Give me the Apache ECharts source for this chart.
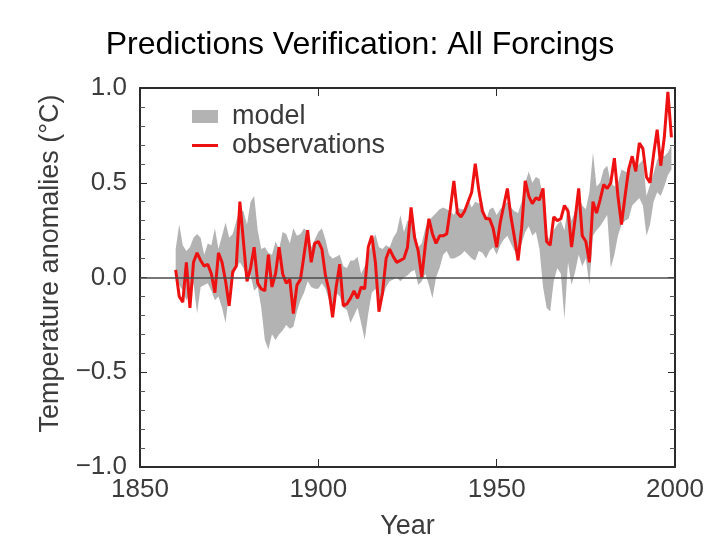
<!DOCTYPE html>
<html>
<head>
<meta charset="utf-8">
<title>Predictions Verification: All Forcings</title>
<script src="https://cdn.jsdelivr.net/npm/echarts@6/dist/echarts.min.js"></script>
<style>
    html, body { margin: 0; padding: 0; background: #fff; }
    #forcings_chart { width: 720px; height: 540px; }
</style>
</head>
<body>
<div id="forcings_chart"></div>
<script>

// Chart data
// ------------------------------

var firstYear = 1860;

// Observed anomalies, one value per year from 1860
var observations = [
    0.04, -0.10, -0.13, 0.08, -0.16, 0.08, 0.13, 0.09, 0.06, 0.07,
    0.02, -0.08, 0.13, 0.08, -0.02, -0.15, 0.03, 0.06, 0.40, 0.19,
    -0.02, 0.05, 0.16, -0.03, -0.06, -0.07, 0.12, -0.05, 0.02, 0.16,
    0.02, -0.03, -0.01, -0.19, -0.04, -0.01, 0.12, 0.25, 0.08, 0.18,
    0.19, 0.15, 0.01, -0.07, -0.21, -0.05, 0.07, -0.15, -0.14, -0.11,
    -0.07, -0.11, -0.05, -0.06, 0.16, 0.22, 0.08, -0.18, -0.08, 0.10,
    0.15, 0.11, 0.08, 0.09, 0.10, 0.16, 0.37, 0.21, 0.14, 0.00,
    0.17, 0.31, 0.23, 0.18, 0.22, 0.22, 0.23, 0.36, 0.51, 0.34,
    0.32, 0.35, 0.40, 0.45, 0.60, 0.46, 0.35, 0.31, 0.31, 0.26,
    0.16, 0.29, 0.38, 0.47, 0.32, 0.21, 0.09, 0.26, 0.51, 0.43,
    0.39, 0.42, 0.41, 0.47, 0.19, 0.17, 0.32, 0.30, 0.31, 0.38,
    0.35, 0.16, 0.31, 0.47, 0.22, 0.19, 0.08, 0.40, 0.34, 0.41,
    0.49, 0.47, 0.50, 0.63, 0.43, 0.28, 0.43, 0.57, 0.64, 0.56,
    0.71, 0.68, 0.53, 0.50, 0.65, 0.78, 0.59, 0.74, 0.98, 0.74
];

// Model ensemble range (top and bottom of the grey band)
var modelHigh = [
    0.15, 0.28, 0.17, 0.14, 0.16, 0.21, 0.23, 0.21, 0.12, 0.18,
    0.17, 0.26, 0.15, 0.22, 0.29, 0.21, 0.23, 0.30, 0.36, 0.35,
    0.28, 0.40, 0.43, 0.25, 0.15, 0.16, 0.13, 0.12, 0.19, 0.15,
    0.24, 0.23, 0.18, 0.26, 0.22, 0.23, 0.26, 0.24, 0.16, 0.20,
    0.24, 0.26, 0.20, 0.12, 0.10, 0.11, 0.12, 0.06, 0.05, 0.09,
    0.09, 0.11, 0.02, 0.06, 0.12, 0.18, 0.23, 0.16, 0.15, 0.17,
    0.16, 0.21, 0.24, 0.33, 0.24, 0.30, 0.30, 0.24, 0.16, 0.18,
    0.26, 0.30, 0.32, 0.34, 0.36, 0.37, 0.36, 0.35, 0.33, 0.37,
    0.36, 0.36, 0.41, 0.37, 0.40, 0.39, 0.40, 0.30, 0.36, 0.37,
    0.33, 0.36, 0.38, 0.40, 0.37, 0.35, 0.34, 0.40, 0.50, 0.56,
    0.50, 0.53, 0.52, 0.42, 0.22, 0.20, 0.25, 0.28, 0.30, 0.25,
    0.38, 0.30, 0.35, 0.42, 0.38, 0.36, 0.45, 0.66, 0.48, 0.50,
    0.57, 0.59, 0.50, 0.48, 0.50, 0.57, 0.56, 0.55, 0.61, 0.58,
    0.60, 0.62, 0.43, 0.49, 0.55, 0.62, 0.65, 0.64, 0.66, 0.70
];

var modelLow = [
    0.01, -0.04, -0.07, -0.12, -0.09, -0.03, -0.19, -0.05, -0.04, -0.03,
    -0.07, -0.12, -0.10, -0.16, -0.24, -0.07, 0.00, 0.05, 0.08, 0.05,
    0.00, 0.01, -0.07, -0.05, -0.16, -0.33, -0.38, -0.30, -0.33, -0.30,
    -0.28, -0.25, -0.27, -0.26, -0.18, -0.12, -0.08, -0.02, -0.05, -0.06,
    -0.06, -0.03, -0.06, -0.12, -0.20, -0.08, -0.10, -0.16, -0.17, -0.24,
    -0.20, -0.16, -0.24, -0.33, -0.19, -0.08, -0.06, -0.14, -0.11, -0.05,
    -0.02, -0.01, 0.00, -0.02, 0.00, 0.01, 0.03, 0.04, -0.04, -0.02,
    0.02, -0.04, -0.11, 0.00, 0.05, 0.12, 0.14, 0.10, 0.10, 0.11,
    0.12, 0.14, 0.12, 0.10, 0.09, 0.14, 0.13, 0.10, 0.14, 0.16,
    0.12, 0.17, 0.20, 0.22, 0.18, 0.14, 0.13, 0.18, 0.24, 0.27,
    0.22, 0.24, 0.15, -0.05, -0.16, -0.18, -0.02, 0.05, 0.02, -0.22,
    0.08, -0.04, 0.03, 0.12, 0.06, 0.10, -0.04, 0.22, 0.25, 0.27,
    0.30, 0.33, 0.05, 0.12, 0.22, 0.28, 0.30, 0.31, 0.38, 0.40,
    0.42, 0.38, 0.22, 0.28, 0.40, 0.45, 0.43, 0.48, 0.54, 0.57
];

// Axis ranges
var yearRange = [1850, 2000];
var anomalyRange = [-1.0, 1.0];


// Setup module
// ------------------------------

var ForcingsChart = function() {

    var _forcingsChart = function() {
        if (typeof echarts == 'undefined') {
            console.warn('Warning - echarts.min.js is not loaded.');
            return;
        }

        var chart_element = document.getElementById('forcings_chart');
        if (!chart_element) {
            return;
        }

        var chart = echarts.init(chart_element);

        var fontFamily = '"Liberation Sans", Arial, Helvetica, sans-serif';
        var axisColor = '#2b2b2b';
        var labelColor = '#3c3c3c';

        // Pair every value with its year
        var toPairs = function(values) {
            return values.map(function(v, i) {
                return [firstYear + i, v];
            });
        };

        // Grey band polygon: top edge forwards, bottom edge backwards
        var renderBand = function(params, api) {
            var points = [];
            var i;
            for (i = 0; i < modelHigh.length; i++) {
                points.push(api.coord([firstYear + i, modelHigh[i]]));
            }
            for (i = modelLow.length - 1; i >= 0; i--) {
                points.push(api.coord([firstYear + i, modelLow[i]]));
            }
            return {
                type: 'polygon',
                shape: { points: points },
                style: { fill: '#b3b3b3' }
            };
        };

        var minusLabel = function(v) {
            return v.toFixed(1).replace('-', '\u2212');
        };

        var yearLabel = function(v) {
            return String(v);
        };

        chart.setOption({

            animation: false,

            textStyle: {
                fontFamily: fontFamily
            },

            title: {
                text: 'Predictions Verification: All Forcings',
                left: 'center',
                top: 24,
                textStyle: {
                    fontFamily: fontFamily,
                    fontSize: 32,
                    fontWeight: 'normal',
                    color: '#000'
                }
            },

            grid: {
                left: 140,
                right: 45,
                top: 88,
                bottom: 73,
                outerBoundsMode: 'none'
            },

            legend: {
                orient: 'vertical',
                left: 192,
                top: 103,
                padding: 0,
                itemWidth: 26,
                itemHeight: 13,
                itemGap: 2,
                selectedMode: false,
                textStyle: {
                    fontFamily: fontFamily,
                    fontSize: 27,
                    lineHeight: 27,
                    color: '#3a3a3a',
                    padding: [0, 0, 0, 9]
                },
                data: [
                    { name: 'model', icon: 'rect' },
                    { name: 'observations', icon: 'path://M0,0H26V3H0Z' }
                ]
            },

            xAxis: [
                {
                    type: 'value',
                    min: yearRange[0],
                    max: yearRange[1],
                    interval: 50,
                    name: 'Year',
                    nameLocation: 'middle',
                    nameGap: 46,
                    nameTextStyle: {
                        fontSize: 27,
                        color: labelColor
                    },
                    axisLine: {
                        onZero: false,
                        lineStyle: { color: axisColor, width: 2 }
                    },
                    axisTick: {
                        inside: true,
                        length: 8,
                        lineStyle: { color: axisColor }
                    },
                    axisLabel: {
                        fontSize: 26,
                        color: labelColor,
                        margin: 10,
                        formatter: yearLabel
                    },
                    splitLine: { show: false }
                },
                {
                    type: 'value',
                    position: 'top',
                    min: yearRange[0],
                    max: yearRange[1],
                    interval: 50,
                    axisLine: {
                        onZero: false,
                        lineStyle: { color: axisColor, width: 2 }
                    },
                    axisTick: {
                        inside: true,
                        length: 8,
                        lineStyle: { color: axisColor }
                    },
                    axisLabel: { show: false },
                    splitLine: { show: false }
                }
            ],

            yAxis: [
                {
                    type: 'value',
                    min: anomalyRange[0],
                    max: anomalyRange[1],
                    interval: 0.5,
                    name: 'Temperature anomalies (\u00B0C)',
                    nameLocation: 'middle',
                    nameGap: 76,
                    nameTextStyle: {
                        fontSize: 27,
                        color: labelColor,
                        padding: [0, 0, 0, 28]
                    },
                    axisLine: {
                        show: true,
                        onZero: false,
                        lineStyle: { color: axisColor, width: 2 }
                    },
                    axisTick: {
                        inside: true,
                        length: 7,
                        lineStyle: { color: axisColor }
                    },
                    minorTick: {
                        show: true,
                        splitNumber: 5,
                        length: 5,
                        lineStyle: { color: '#555' }
                    },
                    axisLabel: {
                        fontSize: 26,
                        color: labelColor,
                        margin: 13,
                        formatter: minusLabel
                    },
                    splitLine: { show: false }
                },
                {
                    type: 'value',
                    position: 'right',
                    min: anomalyRange[0],
                    max: anomalyRange[1],
                    interval: 0.5,
                    axisLine: {
                        show: true,
                        onZero: false,
                        lineStyle: { color: axisColor, width: 2 }
                    },
                    axisTick: {
                        inside: true,
                        length: 7,
                        lineStyle: { color: axisColor }
                    },
                    minorTick: {
                        show: true,
                        splitNumber: 5,
                        length: 5,
                        lineStyle: { color: '#555' }
                    },
                    axisLabel: { show: false },
                    splitLine: { show: false }
                }
            ],

            series: [
                {
                    name: 'model',
                    type: 'custom',
                    xAxisIndex: 0,
                    yAxisIndex: 0,
                    z: 2,
                    itemStyle: { color: '#b3b3b3' },
                    renderItem: renderBand,
                    data: [[firstYear, 0]],
                    markLine: {
                        silent: true,
                        symbol: 'none',
                        label: { show: false },
                        lineStyle: { color: '#4a4a4a', width: 1.5, type: 'solid' },
                        data: [{ yAxis: 0 }]
                    }
                },
                {
                    name: 'observations',
                    type: 'line',
                    xAxisIndex: 0,
                    yAxisIndex: 0,
                    z: 3,
                    showSymbol: false,
                    color: '#ee1111',
                    lineStyle: { color: '#ee1111', width: 3 },
                    data: toPairs(observations)
                }
            ]
        });
    };

    return {
        init: function() {
            _forcingsChart();
        }
    };
}();


// Initialize module
// ------------------------------

document.addEventListener('DOMContentLoaded', function() {
    ForcingsChart.init();
});

</script>
</body>
</html>
